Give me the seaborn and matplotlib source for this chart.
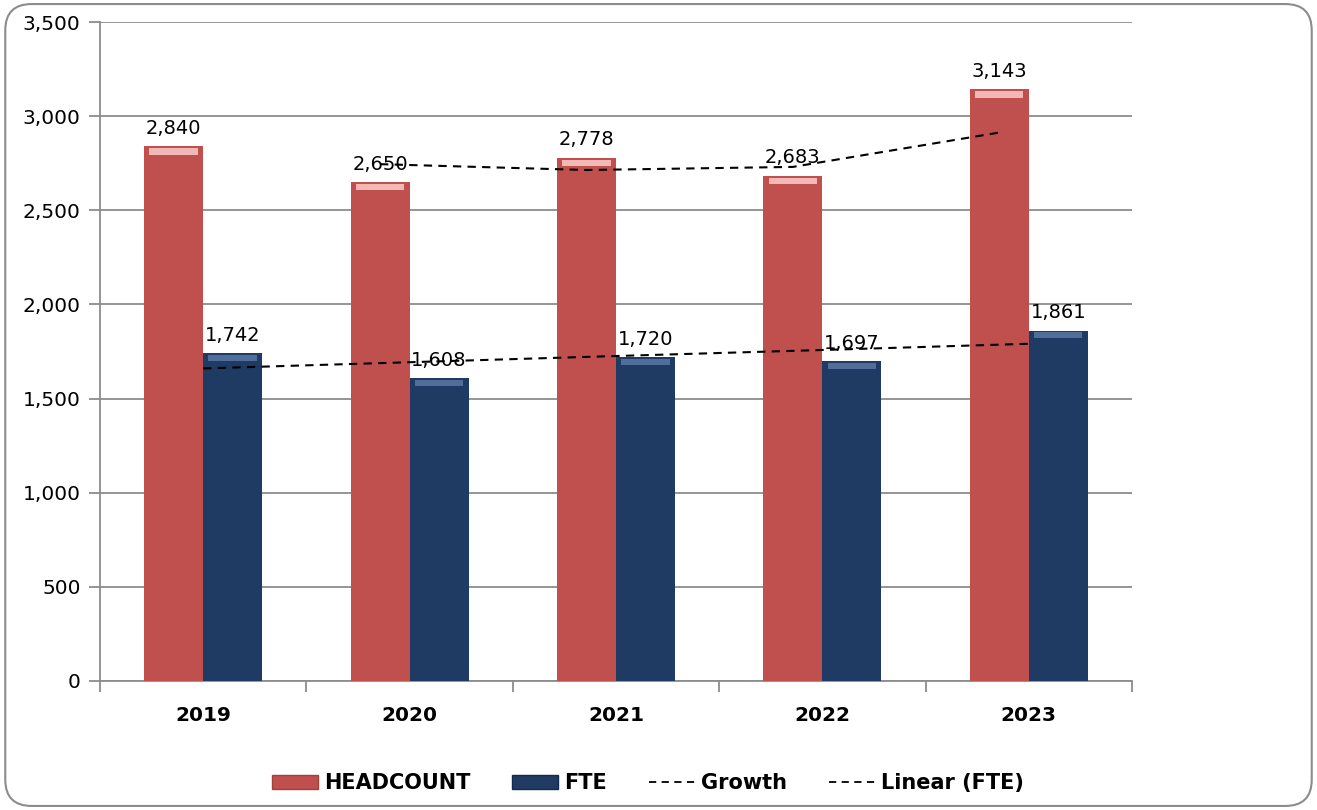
# plot.py - headcount vs FTE bar chart with trend lines

import numpy as np
import pandas as pd
import matplotlib
matplotlib.use("Agg")
import matplotlib.pyplot as plt
from matplotlib.patches import FancyBboxPatch, Patch
from matplotlib.lines import Line2D
import seaborn as sns

# Data
years = ["2019", "2020", "2021", "2022", "2023"]
headcount = [2840, 2650, 2778, 2683, 3143]
fte = [1742, 1608, 1720, 1697, 1861]
# 2-period moving average of headcount (shown from 2020 on)
growth_years = ["2020", "2021", "2022", "2023"]
growth = [2745, 2714, 2730.5, 2913]
# linear trend of FTE
linear_fte = [1660, 1693, 1726, 1758, 1791]

RED = "#C0504D"
BLUE = "#1F3B63"
GRID = "#8C8C8C"

sns.set_theme(style="white")
plt.rcParams["font.family"] = ["DejaVu Sans"]
plt.rcParams["text.color"] = "black"
plt.rcParams["xtick.color"] = "black"
plt.rcParams["ytick.color"] = "black"

df = pd.DataFrame({
    "year": years * 2,
    "value": headcount + fte,
    "series": ["HEADCOUNT"] * len(years) + ["FTE"] * len(years),
})

fig = plt.figure(figsize=(13.17, 8.10), dpi=100)
ax = fig.add_axes([0.0759, 0.1593, 0.7836, 0.8135])

sns.barplot(data=df, x="year", y="value", hue="series",
            palette=[RED, BLUE], width=0.572, gap=0, saturation=1,
            edgecolor="none", linewidth=0, legend=False, ax=ax, zorder=3)

# bevel-like highlight on top of each bar
bw = 0.286
xs = np.arange(len(years))
ax.bar(xs - bw / 2, [34] * len(years), bottom=np.array(headcount) - 44,
       width=bw * 0.82, color="#F2B8B6", zorder=4, linewidth=0)
ax.bar(xs + bw / 2, [30] * len(years), bottom=np.array(fte) - 40,
       width=bw * 0.82, color="#4F6E9C", zorder=4, linewidth=0)

# trend lines
gx = [years.index(y) - bw / 2 for y in growth_years]
ax.plot(gx, growth, color="black", ls=(0, (4, 3)), lw=1.5, zorder=5)
ax.plot(xs, linear_fte, color="black", ls=(0, (4, 3)), lw=1.5, zorder=5)

# data labels
for i in range(len(years)):
    ax.text(xs[i] - bw / 2, headcount[i] + 45, f"{headcount[i]:,}",
            ha="center", va="bottom", fontsize=14, color="black", zorder=6)
    ax.text(xs[i] + bw / 2, fte[i] + 45, f"{fte[i]:,}",
            ha="center", va="bottom", fontsize=14, color="black", zorder=6)

ax.set_xlim(-0.5, len(years) - 0.5)
ax.set_ylim(0, 3500)
ax.set_yticks(range(0, 3501, 500))
ax.set_yticklabels([f"{v:,}" for v in range(0, 3501, 500)], fontsize=14.5)
ax.set_xlabel("")
ax.set_ylabel("")
ax.yaxis.grid(True, color=GRID, lw=1.3, zorder=0)
ax.set_axisbelow(True)
for s in ["top", "right"]:
    ax.spines[s].set_visible(False)
for s in ["left", "bottom"]:
    ax.spines[s].set_color(GRID)
    ax.spines[s].set_linewidth(1.3)

ax.tick_params(axis="y", left=True, length=8, width=1.3, color=GRID, pad=6,
               labelcolor="black")
ax.set_xticks(xs)
ax.set_xticklabels(years, fontsize=14.5, fontweight="bold")
ax.tick_params(axis="x", bottom=False, pad=12, labelcolor="black")
# category boundary ticks on x axis
ax.set_xticks(np.arange(-0.5, len(years)), minor=True)
ax.tick_params(axis="x", which="minor", bottom=True, length=8, width=1.3,
               color=GRID)

# legend
handles = [
    Patch(facecolor=RED, edgecolor="#A04040", label="HEADCOUNT"),
    Patch(facecolor=BLUE, edgecolor="#15294A", label="FTE"),
    Line2D([], [], color="black", ls=(0, (4, 3)), lw=1.3, label="Growth"),
    Line2D([], [], color="black", ls=(0, (4, 3)), lw=1.3, label="Linear (FTE)"),
]
leg = fig.legend(handles=handles, loc="center", bbox_to_anchor=(0.492, 0.033),
                 ncol=4, frameon=False, handlelength=2.2, handleheight=0.6,
                 columnspacing=2.0, handletextpad=0.3,
                 prop={"family": ["Liberation Sans Narrow", "DejaVu Sans"],
                       "weight": "bold", "size": 15})
for t in leg.get_texts():
    t.set_color("black")

# rounded outer border
border = FancyBboxPatch((0.004, 0.005), 0.992, 0.99,
                        boxstyle="round,pad=0,rounding_size=0.02",
                        transform=fig.transFigure, fill=False,
                        edgecolor="#8C8C8C", lw=1.5, mutation_aspect=1317 / 810)
fig.patches.append(border)

fig.savefig("out.png", dpi=100)
